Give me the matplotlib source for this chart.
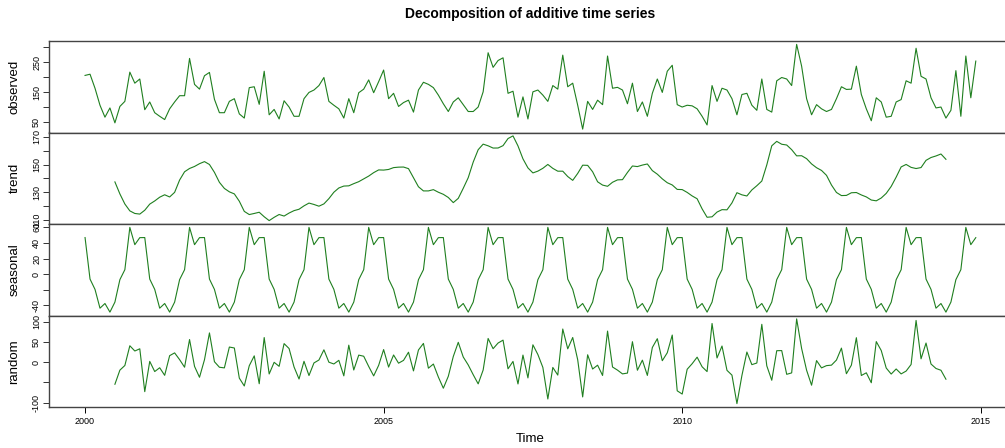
import numpy as np
import pandas as pd
import matplotlib.pyplot as plt

# monthly series, Jan 2000 - Dec 2014
observed = [
    206, 210, 163, 106, 66, 97, 47, 102, 119, 217, 180, 194,
    91, 117, 81, 69, 58, 94, 117, 138, 138, 263, 176, 160,
    205, 216, 126, 81, 81, 119, 128, 77, 63, 165, 168, 109,
    220, 74, 92, 60, 121, 100, 69, 69, 128, 149, 157, 172,
    199, 119, 106, 94, 63, 128, 81, 148, 160, 191, 148, 185,
    224, 128, 146, 102, 115, 123, 83, 157, 183, 176, 165, 140,
    111, 85, 117, 131, 108, 85, 85, 100, 151, 282, 233, 256,
    265, 146, 153, 66, 134, 60, 151, 157, 140, 119, 172, 160,
    274, 168, 180, 106, 26, 119, 92, 123, 108, 271, 163, 166,
    157, 111, 180, 85, 117, 69, 146, 194, 149, 220, 240, 108,
    100, 106, 104, 94, 69, 40, 172, 119, 163, 157, 128, 74,
    142, 146, 106, 89, 194, 92, 83, 188, 199, 194, 172, 310,
    237, 128, 74, 108, 94, 85, 92, 128, 168, 159, 160, 237,
    142, 94, 54, 131, 117, 66, 69, 117, 125, 188, 180, 297,
    203, 194, 131, 97, 100, 63, 89, 222, 69, 271, 131, 254,
]
start_year = 2000
period = 12

x = pd.Series(observed, dtype=float)
t = start_year + np.arange(len(x)) / period

# classical additive decomposition (centred 2x12 moving average)
weights = np.r_[0.5, np.ones(period - 1), 0.5] / period
trend = x.rolling(period + 1, center=True).apply(lambda w: np.dot(w, weights), raw=True)
detrended = x - trend
figure = detrended.groupby(np.arange(len(x)) % period).mean()
figure = figure - figure.mean()
seasonal = pd.Series(np.tile(figure.values, len(x) // period))
random = x - trend - seasonal

panels = [
    ("observed", x, np.arange(50, 301, 50), [50, 150, 250]),
    ("trend", trend, np.arange(110, 171, 10), [110, 130, 150, 170]),
    ("seasonal", seasonal, np.arange(-40, 61, 20), [-40, 0, 20, 40, 60]),
    ("random", random, np.arange(-100, 101, 50), [-100, 0, 50, 100]),
]

plt.rcParams["font.family"] = ["Liberation Sans", "DejaVu Sans"]
fig = plt.figure(figsize=(10.05, 4.48), dpi=100)

W, H = 1005.0, 448.0
left, width = 49.4 / W, 962.0 / W
top, ph = 41.0, 91.5
x_lo, x_hi = 1999.403, 2015.513

axes = []
for i, (name, s, ticks, shown) in enumerate(panels):
    y0 = 1 - (top + (i + 1) * ph) / H
    ax = fig.add_axes([left, y0, width, ph / H])
    ax.plot(t, s.values, color="#1f7f1f", lw=0.8)
    ax.set_xlim(x_lo, x_hi)
    vals = s.dropna()
    lo, hi = vals.min(), vals.max()
    pad = 0.04 * (hi - lo)
    ax.set_ylim(lo - pad, hi + pad)
    ax.set_yticks(ticks)
    ax.set_yticklabels([str(v) if v in shown else "" for v in ticks],
                       rotation=90, va="center", fontsize=6.5)
    ax.tick_params(axis="y", length=4, width=0.7, pad=2, color="#333333")
    ax.set_ylabel(name, fontsize=9.5)
    ax.yaxis.set_label_coords(-29.0 / 962, 0.5)
    for sp in ax.spines.values():
        sp.set_linewidth(1.0)
        sp.set_color("#444444")
    ax.spines["right"].set_visible(False)
    if i < 3:
        ax.set_xticks([])
    axes.append(ax)

bot = axes[-1]
bot.set_xticks([2000, 2005, 2010, 2015])
bot.tick_params(axis="x", length=4, width=0.7, labelsize=6.5, pad=3)
bot.set_xlabel("Time", fontsize=9.5, labelpad=5)

fig.text(530 / W, 1 - 14 / H, "Decomposition of additive time series",
         ha="center", va="center", fontsize=10, fontweight="bold")

fig.savefig("out.png", dpi=100)
